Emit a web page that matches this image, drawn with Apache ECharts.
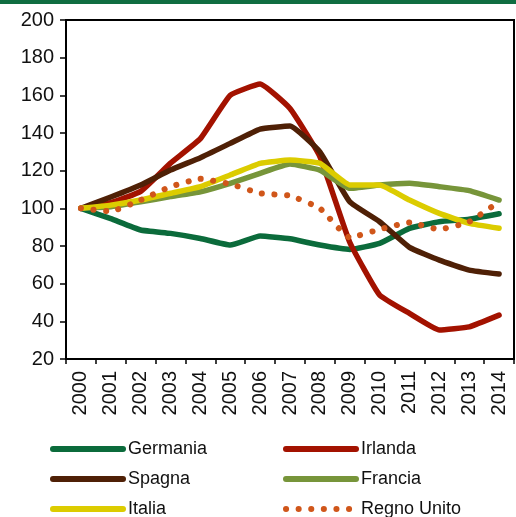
<!DOCTYPE html>
<html>
<head>
<meta charset="utf-8">
<script src="https://cdn.jsdelivr.net/npm/echarts@6/dist/echarts.min.js"></script>
<style>
  html, body { margin: 0; padding: 0; background: #fff; }
  #chart { width: 516px; height: 517px; }
</style>
</head>
<body>
<div id="chart"></div>
<script>
var anni = ['2000','2001','2002','2003','2004','2005','2006','2007','2008','2009','2010','2011','2012','2013','2014'];

var germania   = [100, 94.5, 88.5, 86.7, 84, 80.5, 85.3, 83.8, 80.5, 78.2, 81.4, 89.4, 92.9, 94.2, 97.1];
var irlanda    = [100, 103, 109, 124, 137, 160, 166, 153, 127.5, 82, 54, 44.2, 35.4, 37.1, 43.3];
var spagna     = [100, 106, 112.4, 120.3, 126.9, 134.5, 142.1, 143.7, 130, 103.5, 92.9, 79.3, 72.5, 67.2, 65.1];
var francia    = [100, 100.8, 103.5, 106.2, 108.8, 113.3, 118.6, 123.5, 120.3, 110.6, 112.4, 113.3, 111.5, 109.4, 104.4];
var italia     = [100, 101.7, 104.4, 108, 111.5, 117.7, 123.9, 125.6, 123.9, 112.4, 112.4, 104.4, 97.3, 92, 89.4];
var regnoUnito = [100, 98.4, 104.4, 111.5, 115.7, 112.9, 108, 106.7, 100, 84.5, 88.8, 92.5, 88.8, 92.9, 103.5];

var colori = {
    germania: '#0b6b3b',
    irlanda: '#a31200',
    spagna: '#4f2006',
    francia: '#77953a',
    italia: '#dccc00',
    regno: '#d0561a'
};

function linea(nome, dati, colore, tipo) {
    return {
        name: nome,
        type: 'line',
        data: dati,
        symbol: 'none',
        smooth: 0.12,
        lineStyle: {
            color: colore,
            width: tipo ? 6 : 5.5,
            type: tipo || 'solid',
            cap: 'round',
            join: 'round'
        },
        itemStyle: { color: colore },
        emphasis: { disabled: true }
    };
}

var legendaTesto = { fontFamily: 'Liberation Sans', fontSize: 18, color: '#111' };

function legenda(voci, sinistra) {
    return {
        data: voci,
        orient: 'vertical',
        left: sinistra, top: 440,
        height: 120,
        padding: 0,
        itemWidth: 70, itemHeight: 10, itemGap: 12,
        itemStyle: { opacity: 0 },
        lineStyle: { width: 6, cap: 'round' },
        textStyle: legendaTesto,
        selectedMode: false
    };
}

var option = {
    animation: false,
    graphic: [{
        type: 'rect',
        left: 0, top: 0,
        shape: { width: 516, height: 4 },
        style: { fill: '#0f6d41' }
    }],
    grid: {
        left: 66, right: 2, top: 20, bottom: 158,
        show: true,
        borderColor: '#000',
        borderWidth: 2
    },
    xAxis: {
        type: 'category',
        data: anni,
        boundaryGap: true,
        axisLine: { lineStyle: { color: '#000', width: 2 } },
        axisTick: { show: true, length: 5, lineStyle: { color: '#000', width: 1.5 } },
        axisLabel: {
            rotate: 90,
            interval: 0,
            margin: 12,
            color: '#111',
            fontFamily: 'Liberation Sans',
            fontSize: 20
        },
        splitLine: { show: false }
    },
    yAxis: {
        type: 'value',
        min: 20,
        max: 200,
        interval: 20,
        axisLine: { show: true, lineStyle: { color: '#000', width: 2 } },
        axisTick: { show: true, length: 6, lineStyle: { color: '#000', width: 1.5 } },
        axisLabel: {
            margin: 12,
            color: '#111',
            fontFamily: 'Liberation Sans',
            fontSize: 20
        },
        splitLine: { show: false }
    },
    legend: [
        legenda(['Germania', 'Spagna', 'Italia'], 50),
        legenda(['Irlanda', 'Francia', 'Regno Unito'], 283)
    ],
    series: [
        linea('Germania', germania, colori.germania),
        linea('Irlanda', irlanda, colori.irlanda),
        linea('Spagna', spagna, colori.spagna),
        linea('Francia', francia, colori.francia),
        linea('Italia', italia, colori.italia),
        linea('Regno Unito', regnoUnito, colori.regno, [0.1, 12.5])
    ]
};

var chart = echarts.init(document.getElementById('chart'));
chart.setOption(option);
</script>
</body>
</html>
